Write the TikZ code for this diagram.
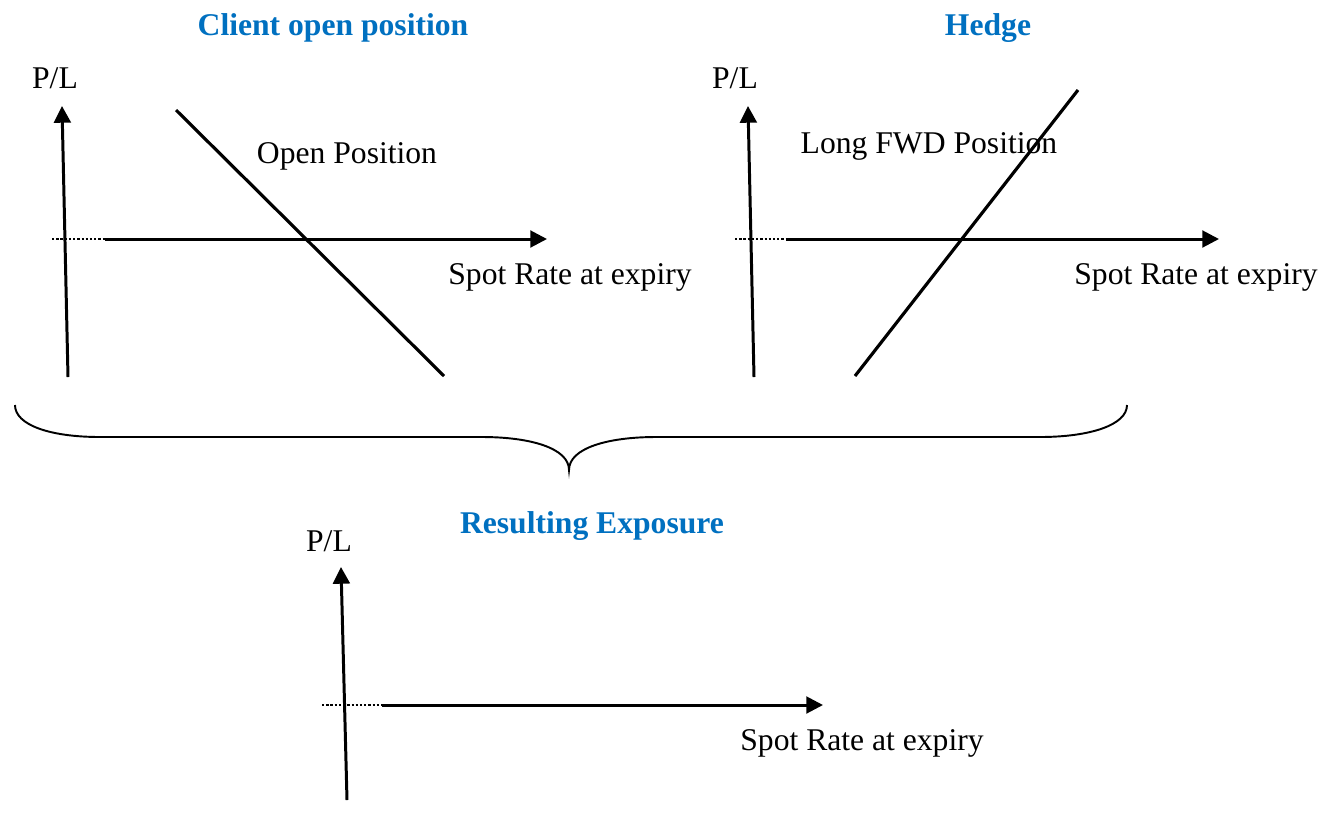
\documentclass[tikz,border=0pt]{standalone}
\usepackage{fontspec}
\setmainfont{Liberation Serif}
\usetikzlibrary{arrows.meta}
\definecolor{titleblue}{RGB}{0,112,192}
\tikzset{>={Triangle[length=9.5pt, width=9.5pt]}}
\tikzset{
  axis/.style = {draw, line width = 1.7pt},
  neg/.style = {draw, line width = 1.6pt, dash pattern = on 1.3pt off 1.1pt},
  payoff/.style = {draw, line width = 1.8pt},
  lbl/.style = {inner sep = 0pt, font = \fontsize{18}{22}\selectfont},
  title/.style = {inner sep = 0pt, text = titleblue, font = \fontsize{18}{22}\selectfont\bfseries}
}

\begin{document}
\begin{tikzpicture}[x = 0.02cm, y = -0.02cm]
\useasboundingbox (0, 0) rectangle (1339, 833);

% client open position
\node[title] (title1) at (333, 28) {Client open position};
\node[lbl] (pl1) at (55, 78) {P/L};
\node[lbl] (open) at (347, 156) {Open Position};
\node[lbl] (spot1) at (570, 277) {Spot Rate at expiry};
\coordinate (y1a) at (68, 377);
\coordinate (y1b) at (62, 106);
\coordinate (x1a) at (52, 239);
\coordinate (x1o) at (105, 239);
\coordinate (x1b) at (547, 239);
\coordinate (op1) at (176, 110);
\coordinate (op2) at (444, 376);

\path (y1a) edge [axis, ->] (y1b);
\path (x1o) edge [axis, ->] (x1b);
\path (x1a) edge [neg] (x1o);
\path (op1) edge [payoff] (op2);

% hedge
\node[title] (title2) at (988, 28) {Hedge};
\node[lbl] (pl2) at (735, 78) {P/L};
\node[lbl] (fwd) at (929, 146) {Long FWD Position};
\node[lbl] (spot2) at (1196, 277) {Spot Rate at expiry};
\coordinate (y2a) at (754, 377);
\coordinate (y2b) at (748, 106);
\coordinate (x2a) at (735, 239);
\coordinate (x2o) at (786, 239);
\coordinate (x2b) at (1219, 239);
\coordinate (fw1) at (855, 376);
\coordinate (fw2) at (1078, 90);

\path (y2a) edge [axis, ->] (y2b);
\path (x2o) edge [axis, ->] (x2b);
\path (x2a) edge [neg] (x2o);
\path (fw1) edge [payoff] (fw2);

% brace joining the two positions
\draw[line width = 1.1pt] (15, 405) .. controls (15, 425) and (50, 437) .. (100, 437) -- (482, 437)
  .. controls (530, 437) and (569, 448) .. (569, 470)
  .. controls (569, 448) and (608, 437) .. (656, 437) -- (1040, 437)
  .. controls (1090, 437) and (1127, 425) .. (1127, 405);

% resulting exposure
\node[title] (title3) at (592, 526) {Resulting Exposure};
\node[lbl] (pl3) at (329, 541) {P/L};
\node[lbl] (spot3) at (862, 743) {Spot Rate at expiry};
\coordinate (y3a) at (347, 800);
\coordinate (y3b) at (341, 567);
\coordinate (x3a) at (322, 705);
\coordinate (x3o) at (382, 705);
\coordinate (x3b) at (823, 705);

\path (y3a) edge [axis, ->] (y3b);
\path (x3o) edge [axis, ->] (x3b);
\path (x3a) edge [neg] (x3o);

\end{tikzpicture}
\end{document}
